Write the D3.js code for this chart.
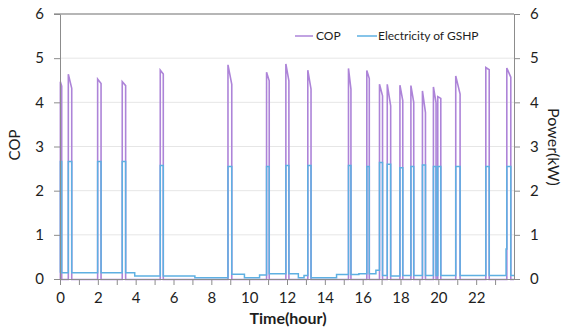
<!DOCTYPE html>
<html>
<head>
<meta charset="utf-8">
<script src="https://cdn.jsdelivr.net/npm/d3@7"></script>
<style>
  body { margin: 0; background: #fff; }
  svg text { font-family: Lato, "Open Sans", sans-serif; fill: #1e1e1e; }
  .axis path { stroke: #8c8c8c; }
  .axis line { stroke: #8c8c8c; }
  .axis text { font-size: 15px; }
</style>
</head>
<body>
<div id="chart"></div>
<script>
// GSHP operation cycles (hours)
var spikeOn  = [0.02, 0.44, 1.99, 3.29, 5.30, 8.88, 10.92, 11.94, 13.10, 15.25, 16.22, 16.89, 17.30, 17.97, 18.55, 19.16, 19.74, 19.97, 20.92, 22.51, 23.62];
var spikeOff = [0.09, 0.62, 2.17, 3.47, 5.46, 9.08, 11.06, 12.10, 13.27, 15.38, 16.35, 17.05, 17.48, 18.12, 18.70, 19.32, 19.88, 20.13, 21.15, 22.69, 23.83];
var copPeak  = [4.48, 4.65, 4.54, 4.48, 4.74, 4.86, 4.69, 4.88, 4.74, 4.78, 4.73, 4.42, 4.42, 4.40, 4.39, 4.27, 4.36, 4.14, 4.61, 4.80, 4.79];
var copTail  = [4.38, 4.33, 4.44, 4.39, 4.65, 4.42, 4.50, 4.50, 4.31, 4.31, 4.55, 4.16, 3.93, 4.05, 4.01, 3.78, 4.00, 4.10, 4.20, 4.75, 4.58];
var powerOn  = [2.66, 2.66, 2.66, 2.66, 2.57, 2.55, 2.55, 2.57, 2.57, 2.57, 2.55, 2.64, 2.60, 2.52, 2.55, 2.58, 2.55, 2.55, 2.55, 2.55, 2.55];

// standby power between cycles (kW), level starting at each time
var standbyTime  = [0, 3.95, 7.13, 9.08, 9.75, 10.55, 11.06, 12.60, 12.90, 13.27, 14.62, 15.80, 16.70, 17.05, 17.48, 18.00, 23.58, 23.83];
var standbyLevel = [0.14, 0.07, 0.03, 0.11, 0.03, 0.09, 0.12, 0.03, 0.08, 0.03, 0.10, 0.12, 0.20, 0.08, 0.07, 0.08, 0.68, 0.08];

var xTicks = d3.range(0, 24);
var yTicks = [0, 1, 2, 3, 4, 5, 6];

// dimensions
var margin = {top: 14, right: 52, bottom: 50, left: 60};
var width = 566 - margin.left - margin.right;
var height = 329 - margin.top - margin.bottom;

var svg = d3.select("#chart")
    .append("svg")
        .attr("width", 566)
        .attr("height", 329)
    .append("g")
        .attr("transform", "translate(" + margin.left + "," + margin.top + ")");

var xScale = d3.scaleLinear().domain([0, 24]).range([0, width]);
var yScale = d3.scaleLinear().domain([0, 6]).range([height, 0]);   // COP
var y2Scale = d3.scaleLinear().domain([0, 6]).range([height, 0]);  // Power(kW)

// gridlines
svg.selectAll("line.grid")
    .data(yTicks.filter(d => d > 0 && d < 6))
    .enter()
    .append("line")
    .attr("class", "grid")
    .attr("x1", 0).attr("x2", width)
    .attr("y1", d => yScale(d)).attr("y2", d => yScale(d))
    .style("stroke", "#e6e6e6")
    .style("stroke-width", 1);

// top border
svg.append("line")
    .attr("x1", -6).attr("x2", width)
    .attr("y1", 0).attr("y2", 0)
    .style("stroke", "#6e6e6e")
    .style("stroke-width", 1.2);

// COP line
var copPts = [[0, 0]];
spikeOn.forEach(function(t, i) {
    copPts.push([t, 0], [t, copPeak[i]], [spikeOff[i], copTail[i]], [spikeOff[i], 0]);
});
copPts.push([24, 0]);

// power line (step)
var times = standbyTime.concat(spikeOn, spikeOff).sort(d3.ascending);
function powerAt(t) {
    for (var i = 0; i < spikeOn.length; i++) {
        if (t >= spikeOn[i] && t < spikeOff[i]) return powerOn[i];
    }
    var k = d3.bisectRight(standbyTime, t) - 1;
    return standbyLevel[Math.max(0, k)];
}
var powPts = times.map(t => [t, powerAt(t)]);
powPts.push([24, powerAt(23.99)]);

svg.append("path")
    .datum(copPts)
    .attr("fill", "none")
    .attr("stroke", "#ad84d8")
    .attr("stroke-width", 1.6)
    .attr("d", d3.line().x(d => xScale(d[0])).y(d => yScale(d[1]) + 0.5));

svg.append("path")
    .datum(powPts)
    .attr("fill", "none")
    .attr("stroke", "#5eb0e2")
    .attr("stroke-width", 1.5)
    .attr("d", d3.line().curve(d3.curveStepAfter).x(d => xScale(d[0])).y(d => y2Scale(d[1])));

// axes
svg.append("g")
    .attr("class", "axis axis--x")
    .attr("transform", "translate(0," + height + ")")
    .call(d3.axisBottom(xScale).tickValues(xTicks).tickSize(6).tickSizeOuter(0)
        .tickFormat(d => d % 2 === 0 ? d : ""))
    .call(g => g.selectAll("text").attr("dy", "1.0em"));

svg.append("g")
    .attr("class", "axis axis--y")
    .call(d3.axisLeft(yScale).tickValues(yTicks).tickFormat(d3.format("d"))
        .tickSize(6).tickSizeOuter(0).tickPadding(10));

svg.append("g")
    .attr("class", "axis axis--y2")
    .attr("transform", "translate(" + width + ",0)")
    .call(d3.axisRight(y2Scale).tickValues(yTicks).tickFormat(d3.format("d"))
        .tickSize(6).tickSizeOuter(0).tickPadding(10));

// axis titles
svg.append("text")
    .attr("transform", "rotate(-90)")
    .attr("x", -131)
    .attr("y", -40)
    .style("text-anchor", "middle")
    .style("font-size", "15px")
    .text("COP");

svg.append("text")
    .attr("transform", "translate(" + (width + 34) + "," + 133 + ") rotate(90)")
    .style("text-anchor", "middle")
    .style("font-size", "16px")
    .text("Power(kW)");

svg.append("text")
    .attr("x", width / 2 + 1)
    .attr("y", height + 45)
    .style("text-anchor", "middle")
    .style("font-size", "16px")
    .style("font-weight", "bold")
    .text("Time(hour)");

// legend
var legend = svg.append("g").attr("transform", "translate(235,22)");
legend.append("line").attr("x1", 0).attr("x2", 18).attr("y1", 0).attr("y2", 0)
    .style("stroke", "#ad84d8").style("stroke-width", 1.5);
legend.append("text").attr("x", 21).attr("y", 4).style("font-size", "12px").text("COP");
legend.append("line").attr("x1", 62).attr("x2", 82).attr("y1", 0).attr("y2", 0)
    .style("stroke", "#5eb0e2").style("stroke-width", 1.5);
legend.append("text").attr("x", 83).attr("y", 4).style("font-size", "12px").text("Electricity of GSHP");
</script>
</body>
</html>
